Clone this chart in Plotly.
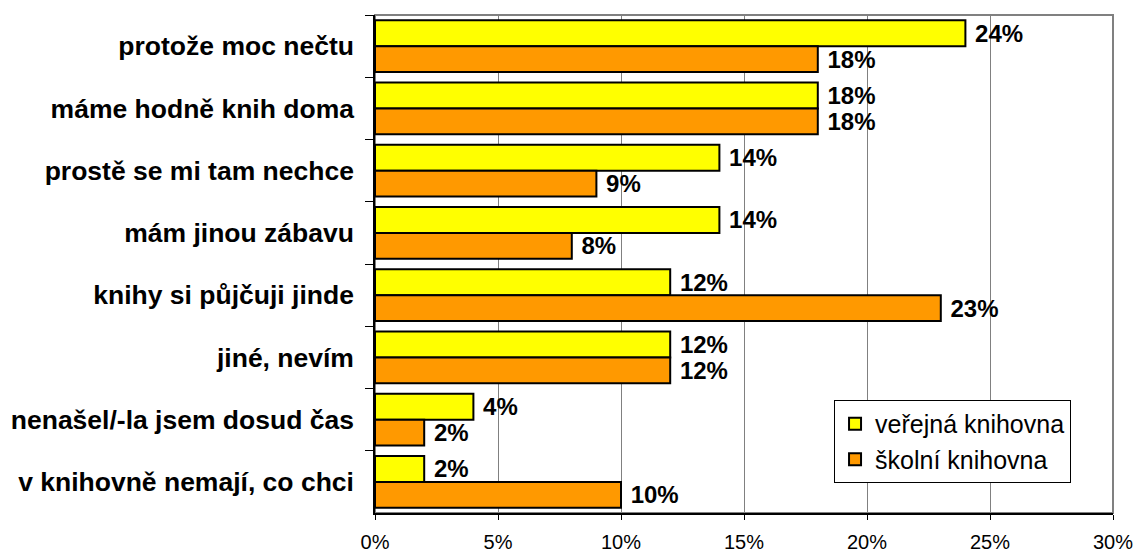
import plotly.graph_objects as go

# categories (top to bottom) and shares in percent
categories = [
    "protože moc nečtu",
    "máme hodně knih doma",
    "prostě se mi tam nechce",
    "mám jinou zábavu",
    "knihy si půjčuji jinde",
    "jiné, nevím",
    "nenašel/-la jsem dosud čas",
    "v knihovně nemají, co chci",
]
verejna = [24, 18, 14, 14, 12, 12, 4, 2]
skolni = [18, 18, 9, 8, 23, 12, 2, 10]
x_ticks = [0, 5, 10, 15, 20, 25, 30]

FONT = "Liberation Sans, Arial, sans-serif"


def bar(values, name, color):
    return go.Bar(
        y=categories, x=values, orientation="h", name=name,
        marker=dict(color=color, line=dict(color="black", width=2)),
        text=["\u00a0%d%%" % v for v in values], textposition="outside",
        textfont=dict(family=FONT, size=24, color="black", weight="bold"),
        cliponaxis=False, constraintext="none",
    )


fig = go.Figure()
fig.add_trace(bar(verejna, "veřejná knihovna", "#FFFF00"))
fig.add_trace(bar(skolni, "školní knihovna", "#FF9900"))

# gray frame on top/right of plot area
fig.add_shape(type="rect", xref="paper", yref="paper", x0=0, x1=1, y0=0, y1=1,
              line=dict(color="#808080", width=2), layer="below")

fig.update_layout(
    width=1134, height=552,
    margin=dict(l=375, r=21, t=15, b=39),
    paper_bgcolor="white", plot_bgcolor="white",
    barmode="group", bargap=0.17, bargroupgap=0,
    font=dict(family=FONT, color="black"),
    showlegend=True,
    legend=dict(
        x=0.622, y=0.227, xanchor="left", yanchor="top",
        bgcolor="white", bordercolor="black", borderwidth=1,
        font=dict(family=FONT, size=25, color="black"),
        traceorder="normal", itemsizing="constant", itemwidth=30,
        tracegroupgap=0,
    ),
    xaxis=dict(
        range=[0, 30], tickvals=x_ticks,
        ticktext=["%d%%" % v for v in x_ticks],
        showgrid=True, gridcolor="#808080", gridwidth=1,
        showline=True, linecolor="black", linewidth=1.5,
        ticks="outside", ticklen=5, tickcolor="black",
        ticklabelstandoff=5, automargin=False,
        tickfont=dict(family=FONT, size=20, color="black"),
        zeroline=False, fixedrange=True,
    ),
    yaxis=dict(
        autorange="reversed", type="category",
        showline=True, linecolor="black", linewidth=1.5,
        ticks="outside", ticklen=8, tickcolor="black", tickson="boundaries",
        ticklabelstandoff=14, automargin=False,
        tickfont=dict(family=FONT, size=26.5, color="black", weight="bold"),
        showgrid=False, fixedrange=True,
    ),
)

# page body has a default 8px margin; drop it so the figure sits at (0, 0)
fig.write_html(
    "out.html",
    config={"displayModeBar": False},
    post_script="document.body.style.margin='0';"
                "document.body.style.overflow='hidden';",
)
